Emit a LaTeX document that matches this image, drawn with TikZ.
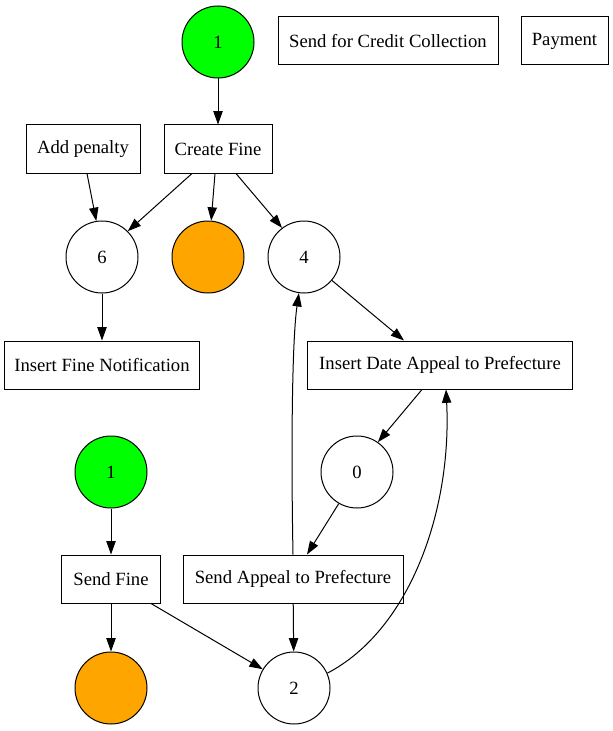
\documentclass[tikz,border=0pt]{standalone}
\usepackage{fontspec}
\setmainfont{Liberation Serif}
\usetikzlibrary{arrows.meta,calc}
\definecolor{startgreen}{RGB}{0,255,0}
\definecolor{endorange}{RGB}{255,165,0}
\begin{document}
\begin{tikzpicture}[x=0.75pt,y=-0.75pt,
  every node/.style={font=\fontsize{14}{16.8}\selectfont},
  place/.style={circle,draw,line width=0.75pt,minimum size=54pt,inner sep=0pt},
  startplace/.style={place,fill=startgreen},
  endplace/.style={place,fill=endorange},
  trans/.style={rectangle,draw,line width=0.75pt,minimum height=36pt,inner sep=0pt},
  arc/.style={line width=0.75pt,-{Triangle[length=10pt,width=7pt]}}]
\useasboundingbox (0,0) rectangle (613,731);
% places
\node[startplace] (g1) at (218,42) {1};
\node[place] (n6) at (102,257) {6};
\node[endplace] (o1) at (208,257) {};
\node[place] (n4) at (304,257) {4};
\node[startplace] (g2) at (111,472) {1};
\node[place] (n0) at (357,472) {0};
\node[endplace] (o2) at (111,688) {};
\node[place] (n2) at (294,688) {2};
% transitions
\node[trans,minimum width=165pt] (scc) at (388,41) {Send for Credit Collection};
\node[trans,minimum width=65.25pt] (pay) at (564.5,41) {Payment};
\node[trans,minimum width=85.5pt] (ap) at (83,149) {Add penalty};
\node[trans,minimum width=81pt] (cf) at (218,149) {Create Fine};
\node[trans,minimum width=146.25pt] (ifn) at (102,365) {Insert Fine Notification};
\node[trans,minimum width=198.75pt] (idap) at (440,365) {Insert Date Appeal to Prefecture};
\node[trans,minimum width=74.25pt] (sf) at (111,579) {Send Fine};
\node[trans,minimum width=165pt] (sap) at (293,579) {Send Appeal to Prefecture};
% arcs
\draw[arc] (g1) -- (cf);
\draw[arc] ($(ap.south)+(4,0)$) -- (n6.99);
\draw[arc] ($(cf.south)+(-26,0)$) -- (n6.45);
\draw[arc] ($(cf.south)+(-3,0)$) -- (o1.85);
\draw[arc] ($(cf.south)+(18,0)$) -- (n4.127);
\draw[arc] (n6) -- (ifn);
\draw[arc] (n4.-40) -- ($(idap.north)+(-36,0)$);
\draw[arc] ($(idap.south)+(-18,0)$) -- (n0.55);
\draw[arc] (n0.-120) -- ($(sap.north)+(14,0)$);
\draw[arc] (sap.north) .. controls (291,450) and (292,340) .. (n4.-98);
\draw[arc] (sap) -- (n2);
\draw[arc] ($(sf.south)+(40,0)$) -- (n2.149);
\draw[arc] (g2) -- (sf);
\draw[arc] (sf) -- (o2);
\draw[arc] (n2.24) .. controls (410,630) and (452,510) .. ($(idap.south)+(6,0)$);
\end{tikzpicture}
\end{document}
